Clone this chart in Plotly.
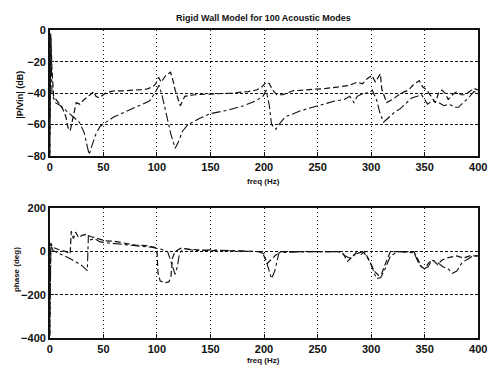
import plotly.graph_objects as go

# ---- data ----
mag1_x = [0, 0.8, 2, 3.5, 8, 12, 15, 17, 19, 21, 24.6, 28, 32, 36, 41, 43, 46, 52, 60, 70, 80, 90, 96, 99, 101.5, 104, 108, 112.7, 115, 117, 121.8, 126, 135, 150, 170, 185, 193, 198, 202, 205, 208, 212, 217.5, 227, 240, 258, 270, 280, 287, 292, 296, 300.7, 304, 308.6, 310, 314.5, 320, 328, 335, 339, 345, 348, 352, 356, 360, 363, 366, 369, 372, 376, 380, 384, 388, 392, 396, 400]
mag1_y = [-80, -2, -25, -42, -46, -50, -55, -62, -64, -58, -46, -47, -44, -42, -39, -42, -43, -40, -38.5, -38.5, -38, -37.5, -36, -34, -30, -33, -29, -26.7, -32, -38, -48, -42, -41, -40.5, -40, -39, -38, -36, -33, -34, -38, -41, -41, -38.5, -38, -37, -36, -35, -33, -34, -31, -28.7, -33, -27.7, -37.5, -46, -44, -40, -38, -35, -32, -36, -38, -42, -46, -40, -38, -40, -44, -41, -39, -41, -41, -39, -37, -38]

mag2_x = [0, 1, 2, 5, 10, 15, 20, 27.6, 32, 35, 36.7, 39, 43, 47, 52, 60, 70, 80, 93, 98, 100.5, 102, 105, 109, 113, 117, 120, 124, 129, 140, 150, 165, 181, 192, 199, 202, 205, 207, 211, 215, 220, 235, 251, 266, 275, 280, 284, 287, 290, 294, 298, 301, 305, 308, 311.6, 316, 322, 327, 333, 338, 343, 347, 350, 352.6, 357, 363, 368, 373, 378, 381.5, 386, 391, 396, 400]
mag2_y = [-78, -5, -40, -46, -48, -51, -54, -58.5, -65, -73, -79, -74, -66, -61, -58.5, -55, -52, -49, -45, -40, -37, -35, -42, -55, -66, -75, -71, -64, -60, -56, -53, -51, -48, -45, -42, -38, -48, -60, -63, -59, -55, -51, -48, -45, -44, -42, -46, -42, -41, -40, -40, -38, -44, -52, -58.5, -56, -52, -50, -46, -43, -42, -41, -44, -47, -45, -46, -48, -47, -49, -49, -46, -43, -39, -40]

ph1_x = [0, 0.8, 3, 8, 15, 19, 20, 22, 24, 27, 30, 34, 38, 45, 52, 60, 70, 80, 90, 98, 100, 101, 103, 107, 111, 113, 114.5, 117, 122, 130, 145, 160, 180, 198, 200, 203, 206, 210, 215, 240, 270, 274, 278, 282, 286, 290, 294, 297, 300, 303, 307, 310, 313, 318, 325, 340, 343, 347, 350, 354, 358, 362, 366, 370, 380, 386, 392, 400]
ph1_y = [-390, 40, 20, 10, 0, -10, 95, 60, 90, 65, 75, 80, 70, 60, 50, 48, 40, 30, 28, 20, 10, -100, -135, -145, -140, -120, -30, 0, 15, 12, 5, 5, 3, 0, -20, -55, -40, -20, 0, 0, 0, -10, -45, -25, -5, -15, 0, -30, -60, -90, -110, -100, -60, 0, 0, 0, -30, -70, -80, -50, -40, -60, -40, -30, -20, -30, -20, -20]

ph2_x = [0, 1, 3, 10, 20, 30, 35, 36, 38, 42, 47, 55, 65, 80, 95, 105, 110, 114, 117, 119, 121, 125, 135, 150, 175, 195, 200, 203, 207, 210, 214, 240, 270, 276, 280, 286, 292, 296, 300, 305, 309, 313, 318, 325, 340, 345, 349, 353, 357, 362, 367, 372, 376, 380, 385, 390, 395, 400]
ph2_y = [-380, 30, 5, -10, -35, -65, -88, 75, 55, 60, 45, 40, 35, 25, 20, 10, 0, -60, -105, -70, -10, 15, 5, 8, 3, 0, -10, -60, -125, -90, -5, 0, 0, -20, -30, -10, 0, -20, -60, -125, -120, -80, -20, 0, -5, -60, -80, -70, -40, -50, -70, -80, -100, -90, -50, -35, -20, -20]

x_ticks = [0, 50, 100, 150, 200, 250, 300, 350, 400]
mag_ticks = [0, -20, -40, -60, -80]
ph_ticks = [200, 0, -200, -400]

title_text = "Rigid Wall Model for 100 Acoustic Modes"
xlabel = "freq (Hz)"
ylabel_mag = "|P/Vin| (dB)"
ylabel_ph = "phase (deg)"

W, H = 496, 379
FONT = "Liberation Sans"
INK = "#111111"

def px(v):
    return v / W

def py(v):
    return 1 - v / H

fig = go.Figure()
line1 = dict(color=INK, width=1.2, dash="6px,3px")
line2 = dict(color=INK, width=1.1, dash="dashdot")
fig.add_trace(go.Scatter(x=mag1_x, y=mag1_y, mode="lines", line=line1, xaxis="x", yaxis="y", showlegend=False))
fig.add_trace(go.Scatter(x=mag2_x, y=mag2_y, mode="lines", line=line2, xaxis="x", yaxis="y", showlegend=False))
fig.add_trace(go.Scatter(x=ph1_x, y=ph1_y, mode="lines", line=line1, xaxis="x2", yaxis="y2", showlegend=False))
fig.add_trace(go.Scatter(x=ph2_x, y=ph2_y, mode="lines", line=line2, xaxis="x2", yaxis="y2", showlegend=False))

tickfont = dict(family=FONT, size=11, color=INK, weight="bold")
xax = dict(range=[0, 400], tickvals=x_ticks, showgrid=True, gridcolor=INK, gridwidth=1,
           griddash="1px,3px", showline=True, linecolor=INK, linewidth=1.5, mirror=True,
           ticks="inside", ticklen=4, tickcolor=INK, tickfont=tickfont, zeroline=False,
           ticklabeloverflow="allow", domain=[px(48), px(487)])
yax_common = dict(showgrid=True, gridcolor=INK, gridwidth=1, griddash="3px,2px",
                  showline=True, linecolor=INK, linewidth=1.5, mirror=True,
                  ticks="inside", ticklen=4, tickcolor=INK, tickfont=tickfont, zeroline=False,
                  ticklabeloverflow="allow")

def ann(text, x, y, size, angle=0):
    return dict(text=text, x=px(x), y=py(y), xref="paper", yref="paper", showarrow=False,
                xanchor="center", yanchor="middle", textangle=angle,
                font=dict(family=FONT, size=size, color=INK, weight="bold"))

fig.update_layout(
    width=W, height=H, margin=dict(l=0, r=0, t=0, b=0),
    paper_bgcolor="white", plot_bgcolor="white",
    xaxis=dict(xax, anchor="y"),
    yaxis=dict(yax_common, range=[-80, 0], tickvals=mag_ticks, domain=[py(155), py(25)], anchor="x"),
    xaxis2=dict(xax, anchor="y2"),
    yaxis2=dict(yax_common, range=[-400, 200], tickvals=ph_ticks, domain=[py(343), py(209)], anchor="x2"),
    annotations=[
        ann(title_text, 267, 12, 9),
        ann(xlabel, 267, 181, 8),
        ann(xlabel, 267, 366, 8),
        ann(ylabel_mag, 17, 92, 9, -90),
        ann(ylabel_ph, 14, 272, 8, -90),
    ],
)

fig.write_html("out.html")
